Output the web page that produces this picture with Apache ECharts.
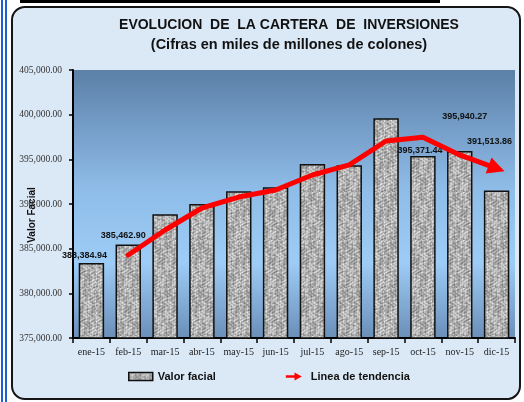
<!DOCTYPE html>
<html>
<head>
<meta charset="utf-8">
<script src="https://cdn.jsdelivr.net/npm/echarts@6/dist/echarts.min.js"></script>
<style>
html, body { margin: 0; padding: 0; background: #fff; }
#wrap { position: relative; width: 524px; height: 402px; overflow: hidden; }
.vline { position: absolute; top: 0; width: 2px; height: 402px; background: #1d5fd6; }
.topline { position: absolute; left: 20px; top: 0; width: 420px; height: 3px; background: #000; }
.box {
  position: absolute; left: 11px; top: 6px; width: 506px; height: 390px;
  border: 2px solid #151515; border-radius: 14px; background: #dbe8f6;
}
#chart { position: absolute; left: 0; top: 0; width: 524px; height: 402px; }
</style>
</head>
<body>
<div id="wrap">
  <div class="vline" style="left:1px"></div>
  <div class="vline" style="left:5px"></div>
  <div class="topline"></div>
  <div class="box"></div>
  <div id="chart"></div>
</div>
<script>
// meses
const months = ['ene-15', 'feb-15', 'mar-15', 'abr-15', 'may-15', 'jun-15',
  'jul-15', 'ago-15', 'sep-15', 'oct-15', 'nov-15', 'dic-15']
// valor facial (miles de millones)
const valorFacial = [383384.94, 385462.90, 388850, 390000, 391420, 391870,
  394480, 394330, 399590, 395371.44, 395940.27, 391513.86]
// linea de tendencia (empieza en feb)
const tendencia = ['-', 384290, 387090, 389550, 390780, 391570,
  393250, 394370, 397050, 397470, 395490, 393990]
// eje y
const yMin = 375000
const yMax = 405000
const yStep = 5000

const fmt = v => v.toLocaleString('en-US', { minimumFractionDigits: 2, maximumFractionDigits: 2 })

// textura gris de las barras
function makeTexture() {
  const c = document.createElement('canvas')
  c.width = 48
  c.height = 48
  const ctx = c.getContext('2d')
  const img = ctx.createImageData(48, 48)
  for (let y = 0; y < 48; y++) {
    for (let x = 0; x < 48; x++) {
      const a = Math.sin(x * 0.85 + Math.sin(y * 0.6) * 2.2) * Math.cos(y * 0.75 + Math.sin(x * 0.4) * 1.8)
      const b = Math.sin((x * 1.7 + y) * 1.1) * Math.cos((x - y * 1.3) * 0.8)
      let g = 175 + a * 40 + b * 22
      g = Math.max(95, Math.min(232, g))
      const i = (y * 48 + x) * 4
      img.data[i] = g
      img.data[i + 1] = g
      img.data[i + 2] = g
      img.data[i + 3] = 255
    }
  }
  ctx.putImageData(img, 0, 0)
  return c
}
const barFill = { image: makeTexture(), repeat: 'repeat' }

// etiquetas visibles y su desplazamiento
const labelOffsets = { 0: [-7, 0], 1: [-5, -2], 9: [-3, 2], 10: [5, -27], 11: [-7, -41] }

const chart = echarts.init(document.getElementById('chart'), null, { renderer: 'canvas' })

const barData = valorFacial.map((v, i) => {
  const off = labelOffsets[i]
  return {
    value: v,
    label: off ? { show: true, offset: off } : { show: false }
  }
})

const option = {
  backgroundColor: 'transparent',
  animation: false,
  title: {
    text: 'EVOLUCION  DE  LA CARTERA  DE  INVERSIONES',
    subtext: '(Cifras en miles de millones de colones)',
    left: 284,
    top: 13,
    textAlign: 'center',
    itemGap: 5,
    textStyle: { fontFamily: 'Liberation Sans', fontWeight: 'bold', fontSize: 14, color: '#111' },
    subtextStyle: { fontFamily: 'Liberation Sans', fontWeight: 'bold', fontSize: 14.5, color: '#111' }
  },
  grid: {
    left: 73,
    right: 9,
    top: 70,
    bottom: 64,
    containLabel: false,
    outerBoundsMode: 'none',
    show: true,
    borderWidth: 0,
    backgroundColor: new echarts.graphic.LinearGradient(0, 0, 0, 1, [
      { offset: 0, color: '#5c80a8' },
      { offset: 0.45, color: '#8fbde9' },
      { offset: 0.72, color: '#9dccf6' },
      { offset: 1, color: '#6a8fb9' }
    ])
  },
  legend: {
    left: 128,
    top: 371,
    padding: 0,
    itemGap: 70,
    itemWidth: 24,
    itemHeight: 8,
    textStyle: { fontFamily: 'Liberation Sans', fontWeight: 'bold', fontSize: 11, color: '#111' },
    data: [
      { name: 'Valor facial', icon: 'rect', itemStyle: { color: barFill, borderColor: '#111', borderWidth: 1.5 } },
      { name: 'Linea de tendencia', icon: 'path://M0,4 L13,4 L13,0 L24,6 L13,12 L13,8 L0,8 Z', itemStyle: { color: '#ff0000', borderWidth: 0 } }
    ]
  },
  xAxis: {
    type: 'category',
    data: months,
    axisLine: { lineStyle: { color: '#000', width: 2 } },
    axisTick: { show: true, length: 5, lineStyle: { color: '#000', width: 1.5 } },
    axisLabel: { interval: 0, fontFamily: 'Liberation Serif', fontSize: 10, color: '#222', margin: 9 }
  },
  yAxis: {
    type: 'value',
    min: yMin,
    max: yMax,
    interval: yStep,
    name: 'Valor Facial',
    nameLocation: 'middle',
    nameRotate: 90,
    nameGap: 36,
    nameMoveOverlap: false,
    nameTextStyle: { fontFamily: 'Liberation Sans', fontWeight: 'bold', fontSize: 10, color: '#111', padding: [0, 22, 0, 0] },
    axisLine: { show: true, lineStyle: { color: '#000', width: 2 } },
    axisTick: { show: true, length: 4, lineStyle: { color: '#000', width: 1.5 } },
    splitLine: { show: false },
    axisLabel: { fontFamily: 'Liberation Serif', fontSize: 9.5, color: '#333', margin: 11, formatter: v => fmt(v) }
  },
  series: [
    {
      name: 'Valor facial',
      type: 'bar',
      data: barData,
      barCategoryGap: '31%',
      itemStyle: { color: barFill, borderColor: '#111', borderWidth: 1.5 },
      label: {
        position: 'top',
        distance: 3,
        fontFamily: 'Liberation Sans',
        fontWeight: 'bold',
        fontSize: 9,
        color: '#111',
        formatter: p => fmt(p.value)
      },
      z: 2
    },
    {
      name: 'Linea de tendencia',
      type: 'line',
      data: tendencia.map((v, i) => (i < tendencia.length - 1 ? v : '-')),
      symbol: 'none',
      smooth: false,
      lineStyle: { color: '#ff0000', width: 5, cap: 'round', join: 'round' },
      itemStyle: { color: '#ff0000' },
      z: 3,
      markLine: {
        silent: true,
        symbol: ['none', 'triangle'],
        symbolSize: [17, 17],
        label: { show: false },
        lineStyle: { color: '#ff0000', width: 5, type: 'solid', cap: 'round' },
        itemStyle: { color: '#ff0000' },
        data: [[
          { coord: [tendencia.length - 2, tendencia[tendencia.length - 2]] },
          { coord: [tendencia.length - 1, tendencia[tendencia.length - 1]] }
        ]]
      }
    }
  ]
}

chart.setOption(option)
</script>
</body>
</html>
